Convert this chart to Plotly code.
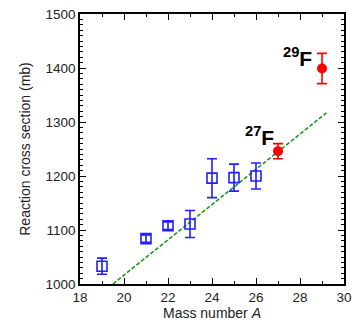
import plotly.graph_objects as go

# Data
A_blue = [19, 21, 22, 23, 24, 25, 26]
sig_blue = [1033, 1084, 1108, 1111, 1196, 1197, 1200]
err_blue = [15, 7, 7, 25, 36, 25, 24]

A_red = [27, 29]
sig_red = [1246, 1399]
err_red = [14, 28]

fit_x = [19.5, 29.2]
fit_y = [1000, 1317]

labels = ["<sup>27</sup>F", "<sup>29</sup>F"]
label_x = [26.15, 27.9]
label_y = [1274, 1420]

FONT = "Liberation Sans, Arial"

fig = go.Figure()
fig.add_trace(go.Scatter(x=fit_x, y=fit_y, mode="lines",
                         line=dict(color="#1a9a1a", width=1.6, dash="4px,2px"),
                         showlegend=False))
fig.add_trace(go.Scatter(x=A_blue, y=sig_blue, mode="markers",
                         marker=dict(symbol="square-open", size=10, color="#1f1fff",
                                     line=dict(width=1.6, color="#1f1fff")),
                         error_y=dict(type="data", array=err_blue, color="#1f1fff",
                                      thickness=1.6, width=5),
                         showlegend=False))
fig.add_trace(go.Scatter(x=A_red, y=sig_red, mode="markers",
                         marker=dict(symbol="circle", size=10, color="#ff0000"),
                         error_y=dict(type="data", array=err_red, color="#ff0000",
                                      thickness=1.6, width=5),
                         showlegend=False))

for t, x, y in zip(labels, label_x, label_y):
    fig.add_annotation(x=x, y=y, text="<b>" + t + "</b>", showarrow=False,
                       font=dict(size=21, color="black", family=FONT))

axis_common = dict(showline=True, linecolor="black", linewidth=1.5, mirror="allticks",
                   ticks="inside", ticklen=6, tickwidth=1.2, tickcolor="black",
                   showgrid=False, zeroline=False,
                   tickfont=dict(size=13.5, color="#222", family=FONT))

fig.update_xaxes(range=[18, 30], dtick=2, tick0=18,
                 minor=dict(dtick=1, ticks="inside", ticklen=3, tickcolor="black", tickwidth=1),
                 title=dict(text="Mass number <i>A</i>", standoff=3,
                            font=dict(size=14, color="#222", family=FONT)),
                 **axis_common)
fig.update_yaxes(range=[1000, 1500], dtick=100, tick0=1000,
                 minor=dict(dtick=10, ticks="inside", ticklen=3, tickcolor="black", tickwidth=1),
                 title=dict(text="Reaction cross section (mb)", standoff=12,
                            font=dict(size=14, color="#222", family=FONT)),
                 **axis_common)

fig.update_layout(width=359, height=325, margin=dict(l=80, r=7, t=14, b=38),
                  plot_bgcolor="white", paper_bgcolor="white")

fig.write_html("out.html")
